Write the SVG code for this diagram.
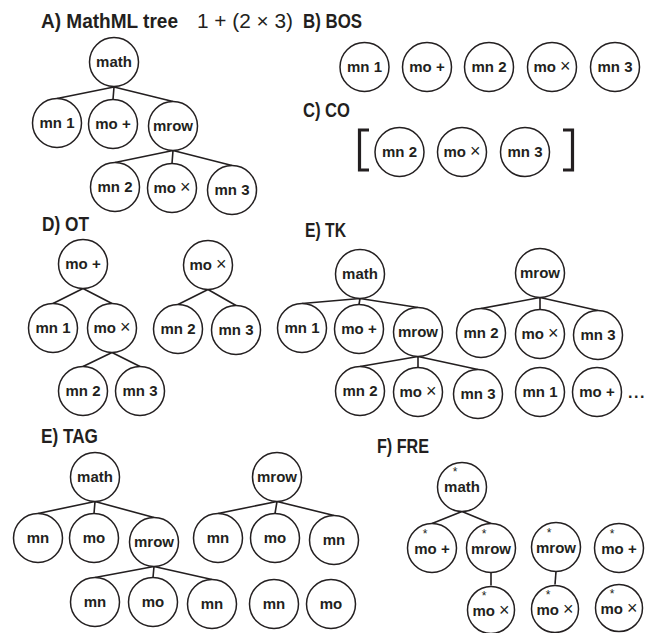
<svg xmlns="http://www.w3.org/2000/svg" width="660" height="633" viewBox="0 0 660 633">
<style>
.bg{fill:#ffffff}
.n circle{fill:#ffffff;stroke:#231f20;stroke-width:1.5}
.n text{font-family:"Liberation Sans",Arial,sans-serif;font-weight:bold;font-size:15px;fill:#231f20;text-anchor:middle}
.n text.ast{font-size:12px;font-weight:normal}
.x{font-weight:normal;font-size:18px}
#connectors path{stroke:#231f20;stroke-width:1.6;fill:none}
.title{font-family:"Liberation Sans",Arial,sans-serif;font-weight:bold;font-size:20px;fill:#231f20}
.expr{font-family:"Liberation Sans",Arial,sans-serif;font-weight:normal;font-size:20px;fill:#231f20}
.br{stroke:#231f20;stroke-width:3.2;fill:none}
.dots{font-family:"Liberation Sans",Arial,sans-serif;font-weight:bold;font-size:16px;fill:#231f20;letter-spacing:1.5px}
</style>
<rect class="bg" x="0" y="0" width="660" height="633"/>

<g id="titles">
<text class="title" x="41" y="28" textLength="137" lengthAdjust="spacingAndGlyphs">A) MathML tree</text>
<text class="expr" x="197" y="28" textLength="96" lengthAdjust="spacingAndGlyphs">1 + (2 × 3)</text>
<text class="title" x="303" y="28" textLength="59" lengthAdjust="spacingAndGlyphs">B) BOS</text>
<text class="title" x="303" y="117" textLength="47" lengthAdjust="spacingAndGlyphs">C) CO</text>
<text class="title" x="42" y="231" textLength="47" lengthAdjust="spacingAndGlyphs">D) OT</text>
<text class="title" x="305" y="237" textLength="41" lengthAdjust="spacingAndGlyphs">E) TK</text>
<text class="title" x="41" y="443" textLength="57" lengthAdjust="spacingAndGlyphs">E) TAG</text>
<text class="title" x="377" y="453" textLength="52" lengthAdjust="spacingAndGlyphs">F) FRE</text>
</g>

<g id="connectors">
<path d="M114,87 L57,98.5 M114,87 L113,99.5 M114,87 L173,101.5"/>
<path d="M173,150.5 L115,162.5 M173,150.5 L172,163.5 M173,150.5 L232,165.5"/>
<path d="M83,288.5 L53,303.5 M83,288.5 L112,303.5"/>
<path d="M112,352.5 L83,366.5 M112,352.5 L140,366.5"/>
<path d="M208,289.5 L178,304.5 M208,289.5 L236,305.5"/>
<path d="M360,298.5 L302,303.5 M360,298.5 L359,304.5 M360,298.5 L418,307.5"/>
<path d="M418,356.5 L360,366.5 M418,356.5 L418,367.5 M418,356.5 L478,369.5"/>
<path d="M540,297.5 L481,308.5 M540,297.5 L540,309.5 M540,297.5 L598,310.5"/>
<path d="M95,501.5 L38,513.5 M95,501.5 L94,513.5 M95,501.5 L154,517.5"/>
<path d="M154,566.5 L95,577.5 M154,566.5 L153,577.5 M154,566.5 L212,579.5"/>
<path d="M277,501.5 L218,513.5 M277,501.5 L275,513.5 M277,501.5 L334,515.5"/>
<path d="M462,511.5 L432,523.5 M462,511.5 L491,523.5"/>
<path d="M491,572.5 L491,585.5"/>
<path d="M556,571.5 L555,584.5"/>
</g>

<!-- A -->
<g id="A-math" class="n"><circle cx="114" cy="62" r="24.5"/><text x="114" y="67">math</text></g>
<g id="A-mn1" class="n"><circle cx="57" cy="123" r="24.5"/><text x="57" y="128">mn 1</text></g>
<g id="A-mo-plus" class="n"><circle cx="113" cy="124" r="24.5"/><text x="113" y="129">mo +</text></g>
<g id="A-mrow" class="n"><circle cx="173" cy="126" r="24.5"/><text x="173" y="131">mrow</text></g>
<g id="A-mn2" class="n"><circle cx="115" cy="187" r="24.5"/><text x="115" y="192">mn 2</text></g>
<g id="A-mo-times" class="n"><circle cx="172" cy="188" r="24.5"/><text x="172" y="193">mo <tspan class="x">×</tspan></text></g>
<g id="A-mn3" class="n"><circle cx="232" cy="190" r="24.5"/><text x="232" y="195">mn 3</text></g>

<!-- B -->
<g id="B-mn1" class="n"><circle cx="364.5" cy="67" r="24.5"/><text x="364.5" y="72">mn 1</text></g>
<g id="B-mo-plus" class="n"><circle cx="427" cy="67" r="24.5"/><text x="427" y="72">mo +</text></g>
<g id="B-mn2" class="n"><circle cx="489" cy="67" r="24.5"/><text x="489" y="72">mn 2</text></g>
<g id="B-mo-times" class="n"><circle cx="552" cy="67" r="24.5"/><text x="552" y="72">mo <tspan class="x">×</tspan></text></g>
<g id="B-mn3" class="n"><circle cx="615" cy="67" r="24.5"/><text x="615" y="72">mn 3</text></g>

<!-- C -->
<g id="C-brackets">
<path class="br" d="M369,130 L359.5,130 L359.5,170 L369,170"/>
<path class="br" d="M563,130 L572.5,130 L572.5,170 L563,170"/>
</g>
<g id="C-mn2" class="n"><circle cx="399.5" cy="152" r="24.5"/><text x="399.5" y="157">mn 2</text></g>
<g id="C-mo-times" class="n"><circle cx="462" cy="152" r="24.5"/><text x="462" y="157">mo <tspan class="x">×</tspan></text></g>
<g id="C-mn3" class="n"><circle cx="525" cy="152" r="24.5"/><text x="525" y="157">mn 3</text></g>

<!-- D -->
<g id="D-mo-plus" class="n"><circle cx="83" cy="264" r="24.5"/><text x="83" y="269">mo +</text></g>
<g id="D-mn1" class="n"><circle cx="53" cy="328" r="24.5"/><text x="53" y="333">mn 1</text></g>
<g id="D-mo-times" class="n"><circle cx="112" cy="328" r="24.5"/><text x="112" y="333">mo <tspan class="x">×</tspan></text></g>
<g id="D-mn2" class="n"><circle cx="83" cy="391" r="24.5"/><text x="83" y="396">mn 2</text></g>
<g id="D-mn3" class="n"><circle cx="140" cy="391" r="24.5"/><text x="140" y="396">mn 3</text></g>
<g id="D2-mo-times" class="n"><circle cx="208" cy="265" r="24.5"/><text x="208" y="270">mo <tspan class="x">×</tspan></text></g>
<g id="D2-mn2" class="n"><circle cx="178" cy="329" r="24.5"/><text x="178" y="334">mn 2</text></g>
<g id="D2-mn3" class="n"><circle cx="236" cy="330" r="24.5"/><text x="236" y="335">mn 3</text></g>

<!-- E TK -->
<g id="TK-math" class="n"><circle cx="360" cy="274" r="24.5"/><text x="360" y="279">math</text></g>
<g id="TK-mn1" class="n"><circle cx="302" cy="328" r="24.5"/><text x="302" y="333">mn 1</text></g>
<g id="TK-mo-plus" class="n"><circle cx="359" cy="329" r="24.5"/><text x="359" y="334">mo +</text></g>
<g id="TK-mrow" class="n"><circle cx="418" cy="332" r="24.5"/><text x="418" y="337">mrow</text></g>
<g id="TK-mn2" class="n"><circle cx="360" cy="391" r="24.5"/><text x="360" y="396">mn 2</text></g>
<g id="TK-mo-times" class="n"><circle cx="418" cy="392" r="24.5"/><text x="418" y="397">mo <tspan class="x">×</tspan></text></g>
<g id="TK-mn3" class="n"><circle cx="478" cy="394" r="24.5"/><text x="478" y="399">mn 3</text></g>
<g id="TK2-mrow" class="n"><circle cx="540" cy="273" r="24.5"/><text x="540" y="278">mrow</text></g>
<g id="TK2-mn2" class="n"><circle cx="481" cy="333" r="24.5"/><text x="481" y="338">mn 2</text></g>
<g id="TK2-mo-times" class="n"><circle cx="540" cy="334" r="24.5"/><text x="540" y="339">mo <tspan class="x">×</tspan></text></g>
<g id="TK2-mn3" class="n"><circle cx="598" cy="335" r="24.5"/><text x="598" y="340">mn 3</text></g>
<g id="TK3-mn1" class="n"><circle cx="540" cy="392" r="24.5"/><text x="540" y="397">mn 1</text></g>
<g id="TK3-mo-plus" class="n"><circle cx="597" cy="392" r="24.5"/><text x="597" y="397">mo +</text></g>
<text id="TK-ellipsis" class="dots" x="628" y="398">...</text>

<!-- E TAG -->
<g id="TAG-math" class="n"><circle cx="95" cy="477" r="24.5"/><text x="95" y="482">math</text></g>
<g id="TAG-mn-a" class="n"><circle cx="38" cy="538" r="24.5"/><text x="38" y="543">mn</text></g>
<g id="TAG-mo-a" class="n"><circle cx="94" cy="538" r="24.5"/><text x="94" y="543">mo</text></g>
<g id="TAG-mrow" class="n"><circle cx="154" cy="542" r="24.5"/><text x="154" y="547">mrow</text></g>
<g id="TAG-mn-b" class="n"><circle cx="95" cy="602" r="24.5"/><text x="95" y="607">mn</text></g>
<g id="TAG-mo-b" class="n"><circle cx="153" cy="602" r="24.5"/><text x="153" y="607">mo</text></g>
<g id="TAG-mn-c" class="n"><circle cx="212" cy="604" r="24.5"/><text x="212" y="609">mn</text></g>
<g id="TAG2-mrow" class="n"><circle cx="277" cy="477" r="24.5"/><text x="277" y="482">mrow</text></g>
<g id="TAG2-mn-a" class="n"><circle cx="218" cy="538" r="24.5"/><text x="218" y="543">mn</text></g>
<g id="TAG2-mo" class="n"><circle cx="275" cy="538" r="24.5"/><text x="275" y="543">mo</text></g>
<g id="TAG2-mn-b" class="n"><circle cx="334" cy="540" r="24.5"/><text x="334" y="545">mn</text></g>
<g id="TAG3-mn" class="n"><circle cx="274" cy="604" r="24.5"/><text x="274" y="609">mn</text></g>
<g id="TAG3-mo" class="n"><circle cx="331" cy="604" r="24.5"/><text x="331" y="609">mo</text></g>

<!-- F FRE -->
<g id="FRE-math" class="n"><circle cx="462" cy="487" r="24.5"/><text class="ast" x="455" y="476">*</text><text x="462" y="492">math</text></g>
<g id="FRE-mo-plus" class="n"><circle cx="432" cy="548" r="24.5"/><text class="ast" x="425" y="538">*</text><text x="432" y="554">mo +</text></g>
<g id="FRE-mrow" class="n"><circle cx="491" cy="548" r="24.5"/><text class="ast" x="484" y="538">*</text><text x="491" y="554">mrow</text></g>
<g id="FRE-mo-times" class="n"><circle cx="491" cy="610" r="23.5"/><text class="ast" x="484" y="600">*</text><text x="491" y="616">mo <tspan class="x">×</tspan></text></g>
<g id="FRE2-mrow" class="n"><circle cx="556" cy="547" r="24.5"/><text class="ast" x="549" y="537">*</text><text x="556" y="553">mrow</text></g>
<g id="FRE2-mo-times" class="n"><circle cx="555" cy="609" r="23.5"/><text class="ast" x="548" y="599">*</text><text x="555" y="615">mo <tspan class="x">×</tspan></text></g>
<g id="FRE3-mo-plus" class="n"><circle cx="619" cy="548" r="24.5"/><text class="ast" x="612" y="538">*</text><text x="619" y="554">mo +</text></g>
<g id="FRE3-mo-times" class="n"><circle cx="619" cy="608" r="23.5"/><text class="ast" x="612" y="598">*</text><text x="619" y="614">mo <tspan class="x">×</tspan></text></g>
</svg>
